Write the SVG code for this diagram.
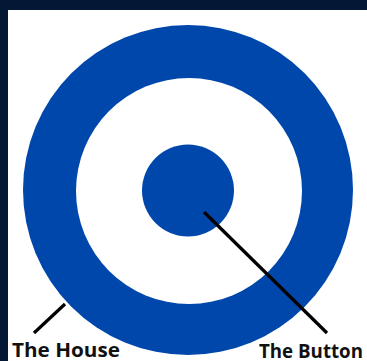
<svg xmlns="http://www.w3.org/2000/svg" width="367" height="361" viewBox="0 0 367 361">
  <style>
    .blue { fill: #0047ab; }
    .lbl { font-family: "Open Sans", "Liberation Sans", sans-serif; font-weight: 700; font-size: 19.5px; fill: #111111; }
    .lead { stroke: #000000; stroke-width: 3.2; stroke-linecap: butt; fill: none; }
  </style>
  <rect x="0" y="0" width="367" height="361" fill="#041734"/>
  <rect x="8" y="10" width="359" height="351" fill="#ffffff"/>
  <g id="house">
    <circle cx="188" cy="190" r="165" class="blue"/>
    <circle cx="189" cy="191" r="113" fill="#ffffff"/>
  </g>
  <g id="button">
    <circle cx="188" cy="190.5" r="46" class="blue"/>
  </g>
  <g id="connectors">
    <line class="lead" x1="34" y1="333" x2="65" y2="304"/>
    <line class="lead" x1="204" y1="212" x2="327" y2="333"/>
  </g>
  <g id="label-house">
    <text class="lbl" x="12" y="357" textLength="108" lengthAdjust="spacingAndGlyphs">The House</text>
  </g>
  <g id="label-button">
    <text class="lbl" x="259" y="358" textLength="104" lengthAdjust="spacingAndGlyphs">The Button</text>
  </g>
</svg>
